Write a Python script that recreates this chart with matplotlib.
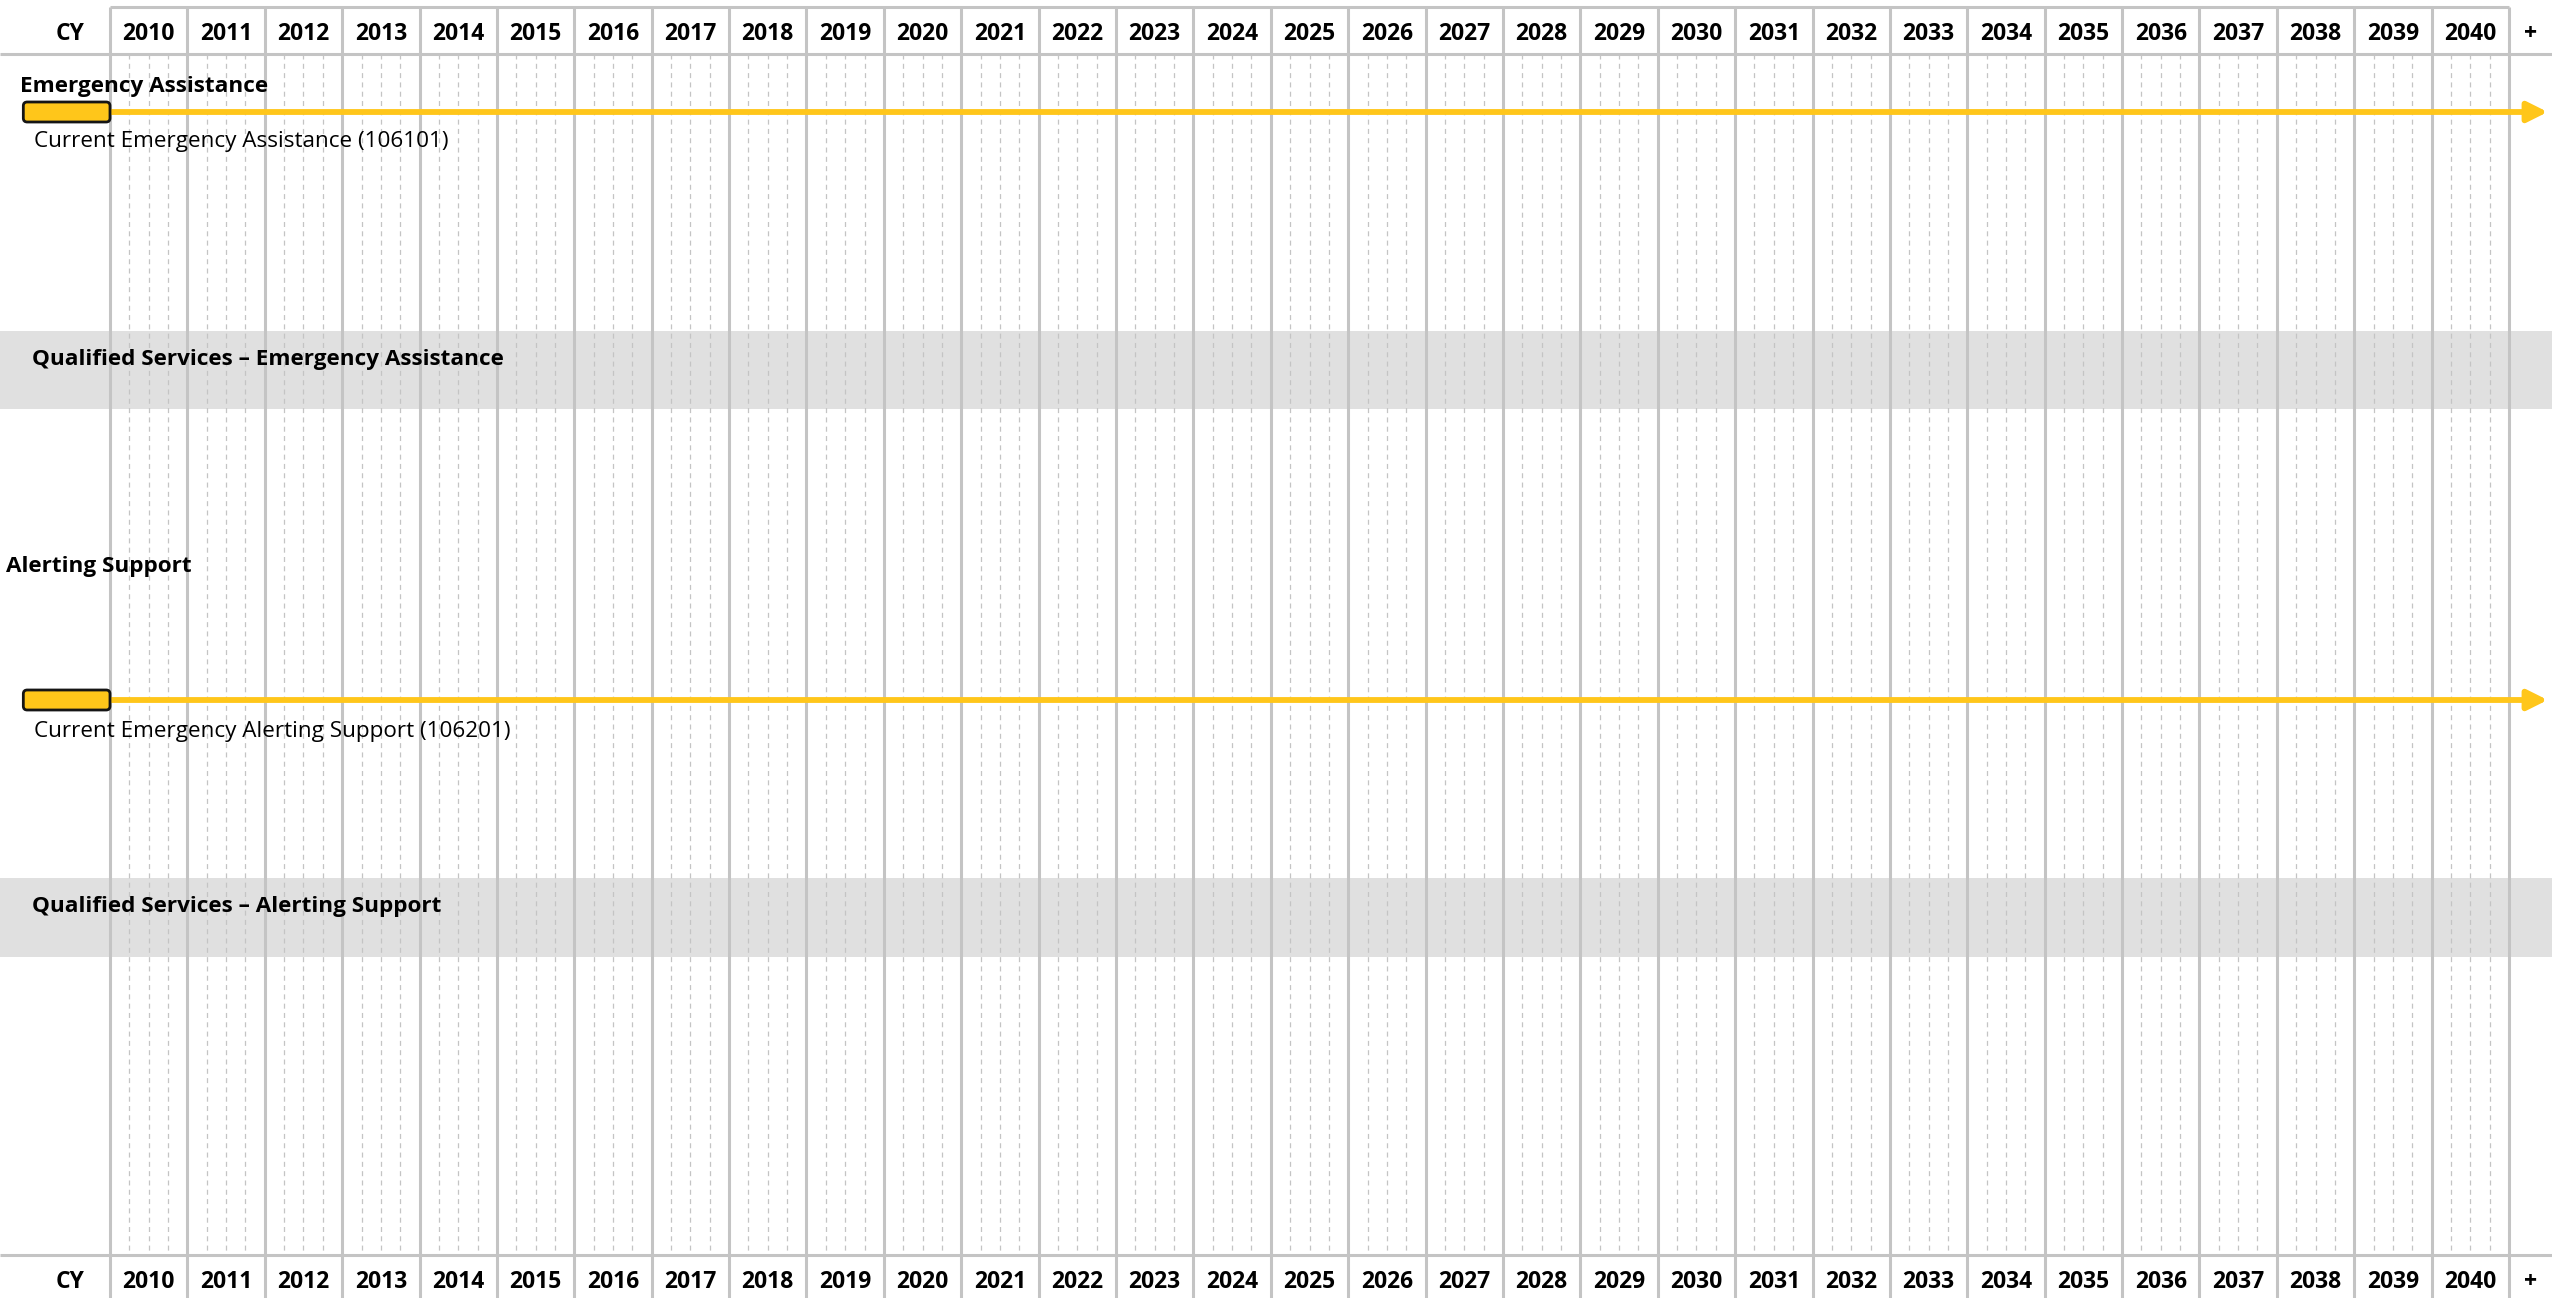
import matplotlib
matplotlib.use("Agg")
import matplotlib.pyplot as plt
from matplotlib.patches import FancyBboxPatch, Rectangle

plt.rcParams['font.family'] = ['Open Sans', 'DejaVu Sans']
plt.rcParams['lines.scale_dashes'] = False

# ---------------- data ----------------
years = list(range(2010, 2041))
header_left = "CY"
header_right = "+"
groups = ["Emergency Assistance", "Alerting Support"]
items = ["Current Emergency Assistance (106101)",
         "Current Emergency Alerting Support (106201)"]
item_start = [2008.88, 2008.88]   # bar start (pre-2010 existing capability)
item_bar_end = [2010, 2010]       # end of the bar block
item_arrow_end = [2041.5, 2041.5]  # continues beyond the timeline
qualified = ["Qualified Services \u2013 Emergency Assistance",
             "Qualified Services \u2013 Alerting Support"]

# ---------------- layout ----------------
W, H = 2552, 1298
DPI = 100
X_LEFT_PX = 110.0           # pixel where 2010 starts
PX_PER_YEAR = (2509.0 - 110.0) / 31.0
X0 = 2010 - X_LEFT_PX / PX_PER_YEAR
X1 = X0 + W / PX_PER_YEAR


def px(p):
    return X0 + p / PX_PER_YEAR


GRID = "#c4c4c4"
DASH = "#c4c4c4"
BAND = "#e0e0e0"
YEL = "#ffc61a"

fig = plt.figure(figsize=(W / DPI, H / DPI), dpi=DPI)
ax = fig.add_axes([0, 0, 1, 1])
ax.set_xlim(X0, X1)
ax.set_ylim(H, 0)
ax.axis("off")

HDR_TOP, HDR_BOT, FTR_TOP = 7, 54, 1255

# grey bands
band_y = [(331, 409), (878, 957)]
for (b0, b1) in band_y:
    ax.add_patch(Rectangle((X0, b0), X1 - X0, b1 - b0, facecolor=BAND,
                           edgecolor="none", zorder=0))

# minor dashed quarter lines
qx = [y + q for y in years for q in (0.25, 0.5, 0.75)]
ax.vlines(qx, HDR_BOT, FTR_TOP, colors=DASH, linewidth=0.9,
          linestyles=[(0, (3.6, 3.1))], zorder=1)

# major year lines
ax.vlines(years + [years[-1] + 1], HDR_TOP, H, colors=GRID, linewidth=2.2,
          zorder=2)
# horizontal header lines
ax.hlines(HDR_TOP, years[0], years[-1] + 1, colors=GRID, linewidth=2.2, zorder=2)
ax.hlines([HDR_BOT, FTR_TOP], X0, X1, colors=GRID, linewidth=2.2, zorder=2)

# header texts
hfs = 16.5
for base in (40, 1288):
    ax.text(2010 - 0.52, base, header_left, ha="center", va="baseline",
            fontsize=hfs, fontweight="bold", zorder=5)
    for y in years:
        ax.text(y + 0.5, base, str(y), ha="center", va="baseline",
                fontsize=hfs, fontweight="bold", zorder=5)
    ax.text(years[-1] + 1 + 0.28, base, header_right, ha="center",
            va="baseline", fontsize=hfs, fontweight="bold", zorder=5)

# group labels / items / qualified bands
group_x_px = [20, 6]
group_base = [92, 572]
bar_y = [112, 700]
bar_h = 20
item_base = [147, 737]
qual_base = [365, 912]
lfs = 16.2

for i in range(len(groups)):
    ax.text(px(group_x_px[i]), group_base[i], groups[i], ha="left",
            va="baseline", fontsize=lfs, fontweight="bold", zorder=6)
    # arrow line
    ax.annotate("", xy=(item_arrow_end[i], bar_y[i]),
                xytext=(item_bar_end[i], bar_y[i]),
                arrowprops=dict(arrowstyle="-|>,head_length=0.6,head_width=0.3",
                                color=YEL, lw=4.2, mutation_scale=20,
                                shrinkA=0, shrinkB=0),
                zorder=4)
    # rounded bar
    ax.add_patch(FancyBboxPatch((item_start[i], bar_y[i] - bar_h / 2),
                                item_bar_end[i] - item_start[i], bar_h,
                                boxstyle="round,pad=0,rounding_size=0.05",
                                mutation_aspect=PX_PER_YEAR,
                                facecolor=YEL, edgecolor="#151515",
                                linewidth=2.0, zorder=5))
    ax.text(px(34), item_base[i], items[i], ha="left", va="baseline",
            fontsize=lfs, zorder=6)
    ax.text(px(32), qual_base[i], qualified[i], ha="left", va="baseline",
            fontsize=lfs, fontweight="bold", zorder=6)

fig.savefig("out.png", dpi=DPI, facecolor="white")
